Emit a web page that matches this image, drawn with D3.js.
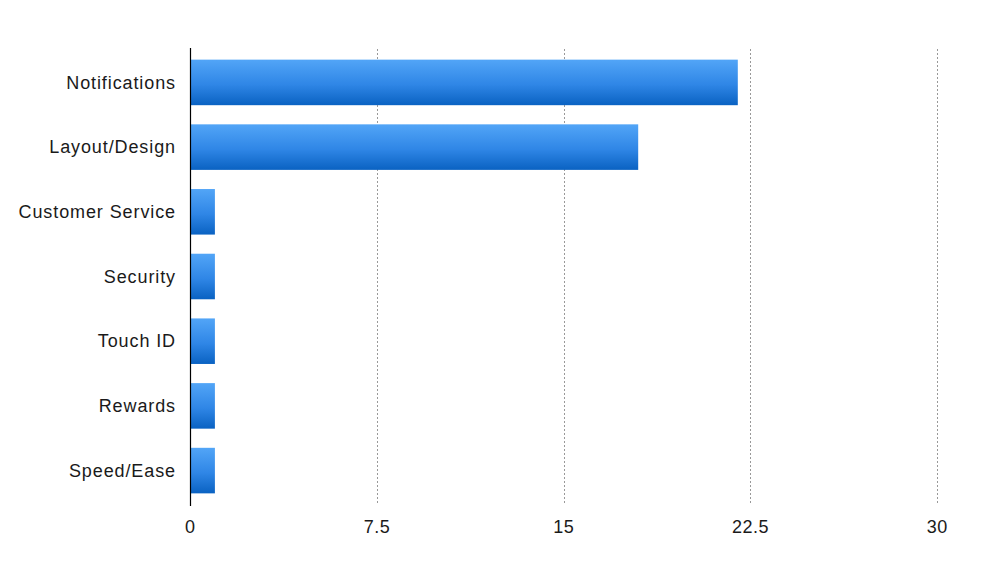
<!DOCTYPE html>
<html><head><meta charset="utf-8">
<script src="https://cdn.jsdelivr.net/npm/d3@7"></script>
<style>body{margin:0;background:#fff}svg{display:block}</style>
</head><body>
<script>
const categories = ["Notifications","Layout/Design","Customer Service","Security","Touch ID","Rewards","Speed/Ease"];
const values = [22, 18, 1, 1, 1, 1, 1];
const tickValues = [0, 7.5, 15, 22.5, 30];
const tickLabels = ["0","7.5","15","22.5","30"];

const W = 996, H = 561;
const m = {left:190, right:59, top:48, bottom:56};
const svg = d3.select("body").append("svg").attr("width",W).attr("height",H);
const defs = svg.append("defs");
const grad = defs.append("linearGradient").attr("id","g").attr("x1",0).attr("y1",0).attr("x2",0).attr("y2",1);
grad.append("stop").attr("offset","0%").attr("stop-color","#52a5f7");
grad.append("stop").attr("offset","55%").attr("stop-color","#2f86e6");
grad.append("stop").attr("offset","100%").attr("stop-color","#0a62c2");

const x = d3.scaleLinear().domain([0,30]).range([m.left, W-m.right]);
const y = d3.scaleBand().domain(categories).range([m.top, H-m.bottom]).paddingInner(0.296).paddingOuter(0.18);

svg.append("g").selectAll("line").data(tickValues.slice(1)).join("line")
  .attr("x1",d=>Math.round(x(d))+0.5).attr("x2",d=>Math.round(x(d))+0.5)
  .attr("y1",m.top+1).attr("y2",H-m.bottom-2)
  .attr("stroke","#999").attr("stroke-width",1).attr("stroke-dasharray","2,2");

svg.append("g").selectAll("rect").data(categories).join("rect")
  .attr("x",x(0)).attr("y",d=>y(d)).attr("height",y.bandwidth())
  .attr("width",(d,i)=>x(values[i])-x(0)).attr("fill","url(#g)");

svg.append("line").attr("x1",m.left+0.5).attr("x2",m.left+0.5).attr("y1",m.top).attr("y2",H-m.bottom+1)
  .attr("stroke","#000").attr("stroke-width",1.2);

const font = "'Liberation Sans', Arial, sans-serif";
svg.append("g").selectAll("text").data(categories).join("text")
  .attr("x",m.left-14).attr("y",d=>y(d)+y.bandwidth()/2).attr("dy","0.35em")
  .attr("text-anchor","end").attr("font-family",font).attr("font-size",18).attr("fill","#1a1a1a")
  .attr("letter-spacing","0.9px")
  .text(d=>d);

svg.append("g").selectAll("text").data(tickValues).join("text")
  .attr("x",d=>x(d)+0.25).attr("y",533).attr("text-anchor","middle")
  .attr("font-family",font).attr("font-size",18).attr("fill","#1a1a1a")
  .attr("letter-spacing","0.5px")
  .text((d,i)=>tickLabels[i]);
</script>
</body></html>
